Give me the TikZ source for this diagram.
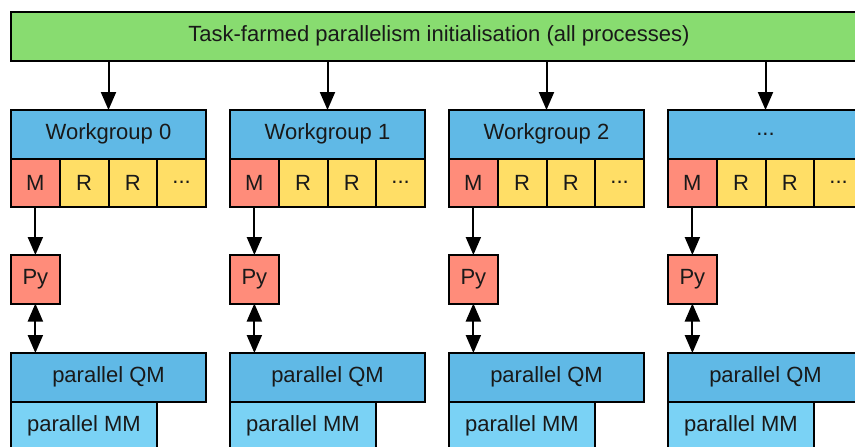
\documentclass[tikz,border=0pt]{standalone}
\usepackage{fontspec}
\setmainfont{Liberation Sans}
\usetikzlibrary{arrows.meta}
\definecolor{initgreen}{RGB}{136,220,112}
\definecolor{wgblue}{RGB}{96,185,230}
\definecolor{mmblue}{RGB}{122,210,245}
\definecolor{masterred}{RGB}{255,140,122}
\definecolor{rankyellow}{RGB}{255,222,102}
\newcommand{\etcdots}{...}

\tikzset{
    box/.style={draw, line width=2pt, inner sep=0pt, outer sep=0pt,
        anchor=north west, minimum height=48.5pt, text=black!90,
        font=\fontsize{22}{26}\selectfont},
    cell/.style={box, minimum width=48.75pt},
    wide/.style={box, minimum width=195pt}
}

\begin{document}
\begin{tikzpicture}[
            x=1pt,
            y=-1pt,
            line width=2pt,
            >={Triangle[length=18pt,width=15pt]}
        ]

        \clip (0,0) rectangle (855,447);

        % Initialisation bar over all workgroups
        \node[box, fill=initgreen, minimum width=856pt] (init) at (11,12)
            {Task-farmed parallelism initialisation (all processes)};

        \foreach \i/\wgname in {0/Workgroup 0, 1/Workgroup 1, 2/Workgroup 2, 3/\etcdots} {
            \pgfmathsetmacro\wx{11+219*\i}

            % Workgroup header and its ranks
            \node[wide, fill=wgblue] (wg\i) at (\wx,110) {\wgname};
            \node[cell, fill=masterred] (m\i) at (wg\i.south west) {M};
            \node[cell, fill=rankyellow] (ra\i) at (m\i.north east) {R};
            \node[cell, fill=rankyellow] (rb\i) at (ra\i.north east) {R};
            \node[cell, fill=rankyellow] (rc\i) at (rb\i.north east) {\etcdots};

            % Python driver on the master
            \node[cell, fill=masterred] (py\i) at (\wx,255) {Py};

            % Parallel QM and MM codes
            \node[wide, fill=wgblue] (qm\i) at (\wx,353) {parallel QM};
            \node[box, fill=mmblue, minimum width=146pt] (mm\i) at (qm\i.south west) {parallel MM};

            % Connectors
            \draw[->] (init.south -| wg\i.north) -- (wg\i.north);
            \draw[->] (m\i.south) -- (py\i.north);
            \draw[<->] (py\i.south) -- (py\i.south |- qm\i.north);
        }

        \end{tikzpicture}
\end{document}
